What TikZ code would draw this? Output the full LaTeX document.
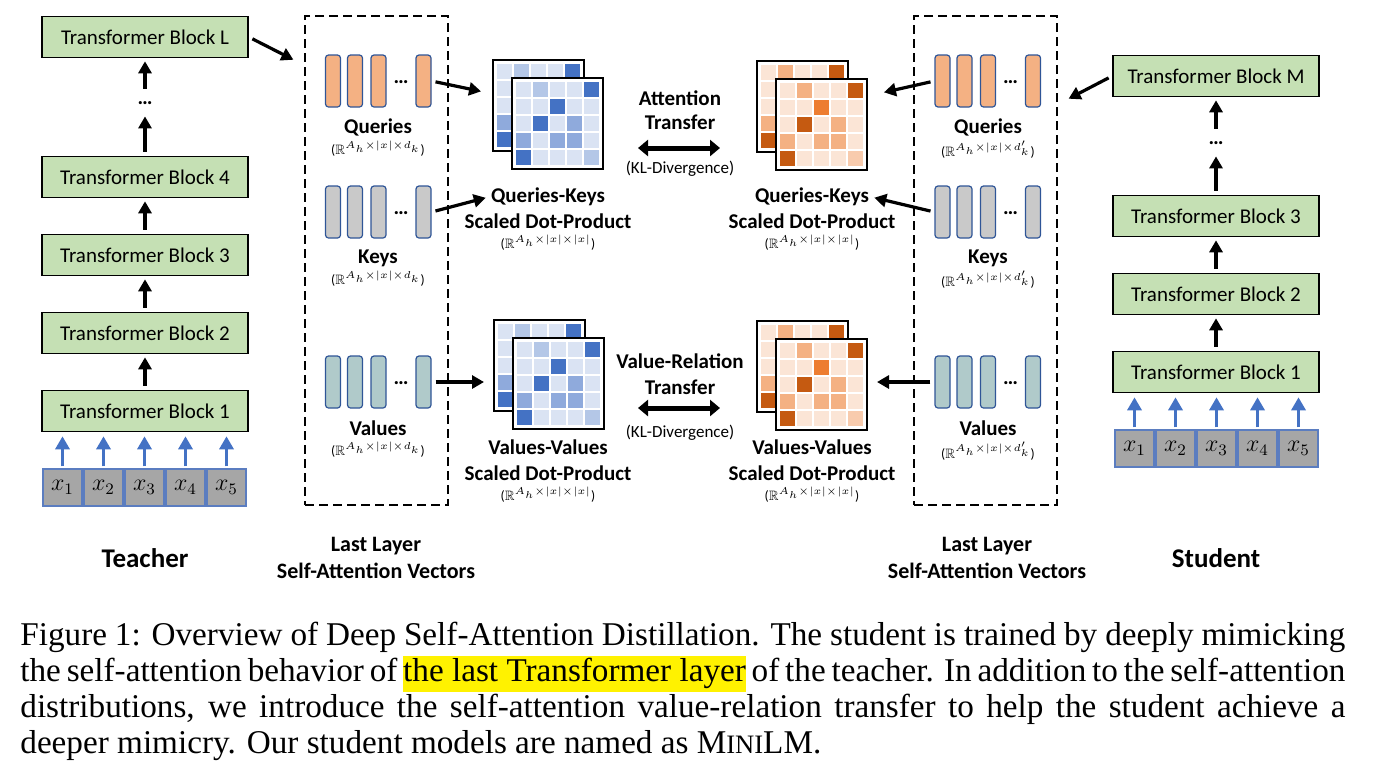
\documentclass[tikz,border=0pt]{standalone}
\usepackage{amssymb}
\usepackage{amsmath}
\usepackage{fontspec}
\setmainfont{Carlito}
\newfontfamily\capfont{Liberation Serif}
\usepackage{xcolor}
\usepackage{tikz}
\usetikzlibrary{shapes.geometric, arrows.meta, positioning}

\definecolor{blockgreen}{HTML}{C5E0B4}
\definecolor{tokgray}{HTML}{A6A6A6}
\definecolor{tokline}{HTML}{5B7DC0}
\definecolor{inblue}{HTML}{4472C4}
\definecolor{vecline}{HTML}{2F5597}
\definecolor{qfill}{HTML}{F4B183}
\definecolor{kfill}{HTML}{C9C9C9}
\definecolor{vfill}{HTML}{B0CACA}
\definecolor{blue0}{HTML}{DAE3F3}
\definecolor{blue1}{HTML}{B4C7E7}
\definecolor{blue2}{HTML}{8FAADC}
\definecolor{blue3}{HTML}{4472C4}
\definecolor{blue4}{HTML}{4472C4}
\definecolor{blue5}{HTML}{B4C7E7}
\definecolor{orng0}{HTML}{FBE5D6}
\definecolor{orng1}{HTML}{F4B183}
\definecolor{orng2}{HTML}{F4B183}
\definecolor{orng3}{HTML}{C55A11}
\definecolor{orng4}{HTML}{ED7D31}
\definecolor{orng5}{HTML}{F8CBAD}

\tikzstyle{block} = [rectangle, minimum width=103pt, minimum height=20.5pt, inner sep=0pt, text centered, draw=black, line width=0.8pt, fill=blockgreen, font=\fontsize{10.5}{12}\selectfont]
\tikzstyle{tok} = [rectangle, minimum width=19.5pt, minimum height=18.5pt, inner sep=0pt, draw=tokline, line width=0.6pt, fill=tokgray, font=\fontsize{11.5}{12}\selectfont]
\tikzstyle{vec} = [rectangle, rounded corners=1.5pt, minimum width=7.5pt, minimum height=26pt, inner sep=0pt, draw=vecline, line width=0.6pt]
\tikzstyle{matbox} = [rectangle, minimum size=45.5pt, inner sep=0pt, draw=black, line width=1pt, fill=white]
\tikzstyle{vgroup} = [rectangle, draw=black, line width=0.9pt, dash pattern=on 4.5pt off 2.5pt]
\tikzstyle{dotsy} = [inner sep=0pt, minimum height=10pt, font=\bfseries\fontsize{10.5}{12}\selectfont]
\tikzstyle{vlabel} = [inner sep=1pt, font=\bfseries\fontsize{10.5}{12}\selectfont]
\tikzstyle{dim} = [inner sep=0pt, font=\fontsize{6.8}{8}\selectfont]
\tikzstyle{kl} = [inner sep=0pt, font=\fontsize{8.5}{10}\selectfont]
\tikzstyle{rolelabel} = [font=\bfseries\fontsize{13.5}{16}\selectfont]
\tikzstyle{capline} = [anchor=base west, inner sep=0pt, font=\capfont\fontsize{16.6}{18}\selectfont]
\tikzstyle{arrow} = [line width=1.6pt, -{Triangle[length=6pt,width=6.5pt]}, shorten <=2pt, shorten >=1.5pt]
\tikzstyle{inarrow} = [line width=1.8pt, draw=inblue, -{Triangle[length=6.5pt,width=7pt]}, shorten <=1pt, shorten >=2pt]
\tikzstyle{dblarrow} = [line width=2.5pt, {Triangle[length=5pt,width=8pt]}-{Triangle[length=5pt,width=8pt]}]

% four vectors and the dots
\newcommand{\vecrow}[4]{%
  \foreach \i/\dx in {1/-45.5, 2/-23.5, 3/0, 4/45}
    \node (#1\i) [vec, fill=#4] at ({#2+(\dx)},#3) {};
  \node (#1d) [dotsy] at ({#2+22.5},{#3+1}) {…};
}
% two stacked 5x5 score matrices
\newcommand{\simmat}[4]{%
  \foreach \k/\ox/\oy in {b/0/0, f/19/18} {%
    \node (#1\k) [matbox] at ({#2+\ox+45.5},{#3+\oy+45.5}) {};
    \foreach \c [count=\m from 0] in {0,1,0,0,3, 0,0,4,0,0, 0,3,0,2,0, 2,0,2,2,0, 3,0,0,0,5} {%
      \pgfmathsetmacro{\cx}{#2+\ox+3.75+17*mod(\m,5)}
      \pgfmathsetmacro{\cy}{#3+\oy+3.75+17*floor(\m/5)}
      \fill[#4\c] (\cx,\cy) rectangle ++(15.5,15.5);
    }
  }
}
\newcommand{\hlbox}[1]{{\setlength{\fboxsep}{0pt}\colorbox{yellow}{\strut #1}}}

\begin{document}
\begin{tikzpicture}[x=0.5pt, y=-0.5pt, on grid]
\useasboundingbox (0,0) rectangle (1379,773);

% teacher
\node (tL) [block] at (145,37) {Transformer Block L};
\node (dT) [dotsy, below=33pt of tL] {…};
\node (t4) [block, below=37pt of dT] {Transformer Block 4};
\node (t3) [block, below=39pt of t4] {Transformer Block 3};
\node (t2) [block, below=39pt of t3] {Transformer Block 2};
\node (t1) [block, below=39pt of t2] {Transformer Block 1};
\draw [arrow] (dT) -- (tL);
\draw [arrow] (t4) -- (dT);
\draw [arrow] (t3) -- (t4);
\draw [arrow] (t2) -- (t3);
\draw [arrow] (t1) -- (t2);
\node (xT1) [tok] at (62.5,487.5) {$x_1$};
\foreach \i [count=\j from 2] in {1,...,4}
  \node (xT\j) [tok, right=20.5pt of xT\i] {$x_\j$};
\foreach \i in {1,...,5}
  \draw [inarrow] (xT\i) -- (xT\i |- t1.south);
\node (teacher) [rolelabel] at (145,558) {Teacher};

% teacher last layer
\node (gT) [vgroup, minimum width=71.5pt, minimum height=244.5pt] at (376.5,260.5) {};
\vecrow{qT}{378.5}{81}{qfill}
\vecrow{kT}{378.5}{212}{kfill}
\vecrow{vT}{378.5}{382}{vfill}
\node (lqT) [vlabel] at (378,127) {Queries};
\node (sqT) [dim] at (378,149) {($\mathbb{R}^{A_h\times|x|\times d_k}$)};
\node (lkT) [vlabel] at (378,258) {Keys};
\node (skT) [dim] at (378,279) {($\mathbb{R}^{A_h\times|x|\times d_k}$)};
\node (lvT) [vlabel] at (378,428) {Values};
\node (svT) [dim] at (378,450) {($\mathbb{R}^{A_h\times|x|\times d_k}$)};
\node (lastT) [vlabel, align=center, font=\bfseries\fontsize{11}{13.5}\selectfont] at (376,557.5) {Last Layer\\Self-Attention Vectors};
\draw [arrow] (tL.east) -- ([xshift=-4pt, yshift=-23pt]gT.north west);

% teacher relations
\simmat{mQT}{493}{60}{blue}
\simmat{mVT}{494}{320}{blue}
\node (pkT) [vlabel] at (548,197) {Queries-Keys};
\node (psT) [vlabel] at (548,221) {Scaled Dot-Product};
\node (pdT) [dim] at (548,243) {($\mathbb{R}^{A_h\times|x|\times|x|}$)};
\node (pvT) [vlabel] at (548,447) {Values-Values};
\node (pwT) [vlabel] at (548,473) {Scaled Dot-Product};
\node (pxT) [dim] at (548,495) {($\mathbb{R}^{A_h\times|x|\times|x|}$)};
\draw [arrow] (qT4.east) -- ([xshift=-4pt, yshift=6.75pt]mQTb.west);
\draw [arrow] (kT4.east) -- (pkT.west);
\draw [arrow, shorten >=4.5pt] (vT4.east) -- (vT4.east -| mVTb.west);

% transfer
\node (attn) [vlabel, align=center] at (680,110) {Attention\\Transfer};
\coordinate (atL) at (638,148);
\coordinate (atR) at (720,148);
\draw [dblarrow] (atL) -- (atR);
\node (klA) [kl] at (680,169) {(KL-Divergence)};
\node (vrel) [vlabel, align=center, font=\bfseries\fontsize{10.5}{13}\selectfont] at (680,374) {Value-Relation\\Transfer};
\coordinate (vrL) at (638,408);
\coordinate (vrR) at (720,408);
\draw [dblarrow] (vrL) -- (vrR);
\node (klV) [kl] at (680,433) {(KL-Divergence)};

% student relations
\simmat{mQS}{757}{61}{orng}
\simmat{mVS}{757}{321}{orng}
\node (pkS) [vlabel] at (812,197) {Queries-Keys};
\node (psS) [vlabel] at (812,221) {Scaled Dot-Product};
\node (pdS) [dim] at (812,243) {($\mathbb{R}^{A_h\times|x|\times|x|}$)};
\node (pvS) [vlabel] at (812,447) {Values-Values};
\node (pwS) [vlabel] at (812,473) {Scaled Dot-Product};
\node (pxS) [dim] at (812,495) {($\mathbb{R}^{A_h\times|x|\times|x|}$)};

% student last layer
\node (gS) [vgroup, minimum width=71.5pt, minimum height=244.5pt] at (985.5,260.5) {};
\vecrow{qS}{988}{81}{qfill}
\vecrow{kS}{988}{212}{kfill}
\vecrow{vS}{988}{382}{vfill}
\node (lqS) [vlabel] at (988,127) {Queries};
\node (sqS) [dim] at (988,150) {($\mathbb{R}^{A_h\times|x|\times d'_k}$)};
\node (lkS) [vlabel] at (988,258) {Keys};
\node (skS) [dim] at (988,280) {($\mathbb{R}^{A_h\times|x|\times d'_k}$)};
\node (lvS) [vlabel] at (988,428) {Values};
\node (svS) [dim] at (988,451) {($\mathbb{R}^{A_h\times|x|\times d'_k}$)};
\node (lastS) [vlabel, align=center, font=\bfseries\fontsize{11}{13.5}\selectfont] at (987,557.5) {Last Layer\\Self-Attention Vectors};
\draw [arrow] (qS1.west) -- ([xshift=6.5pt, yshift=15.75pt]mQSf.east);
\draw [arrow] (kS1.west) -- (pkS.east);
\draw [arrow, shorten >=4.5pt] (vS1.west) -- (vS1.west -| mVSf.east);

% student
\node (tM) [block] at (1216,76) {Transformer Block M};
\node (dS) [dotsy, below=33.5pt of tM] {…};
\node (s3) [block, below=36.5pt of dS] {Transformer Block 3};
\node (s2) [block, below=39pt of s3] {Transformer Block 2};
\node (s1) [block, below=39pt of s2] {Transformer Block 1};
\draw [arrow] (dS) -- (tM);
\draw [arrow] (s3) -- (dS);
\draw [arrow] (s2) -- (s3);
\draw [arrow] (s1) -- (s2);
\node (xS1) [tok] at (1134.5,448.5) {$x_1$};
\foreach \i [count=\j from 2] in {1,...,4}
  \node (xS\j) [tok, right=20.5pt of xS\i] {$x_\j$};
\foreach \i in {1,...,5}
  \draw [inarrow] (xS\i) -- (xS\i |- s1.south);
\node (student) [rolelabel] at (1216,558) {Student};
\draw [arrow] (tM.west) -- ([xshift=4pt, yshift=-42.5pt]gS.north east);

% caption
\node (cap1) [capline] at (20,645) {\makebox[662.5pt][s]{Figure 1: Overview of Deep Self-Attention Distillation. The student is trained by deeply mimicking}};
\node (cap2) [capline] at (20,681) {\makebox[662.5pt][s]{the self-attention behavior of \hlbox{the last Transformer layer} of the teacher. In addition to the self-attention}};
\node (cap3) [capline] at (20,717) {\makebox[662.5pt][s]{distributions, we introduce the self-attention value-relation transfer to help the student achieve a}};
\node (cap4) [capline] at (20,753) {deeper mimicry. Our student models are named as M{\fontsize{13.3}{18}\selectfont INI}LM.};
\end{tikzpicture}
\end{document}
